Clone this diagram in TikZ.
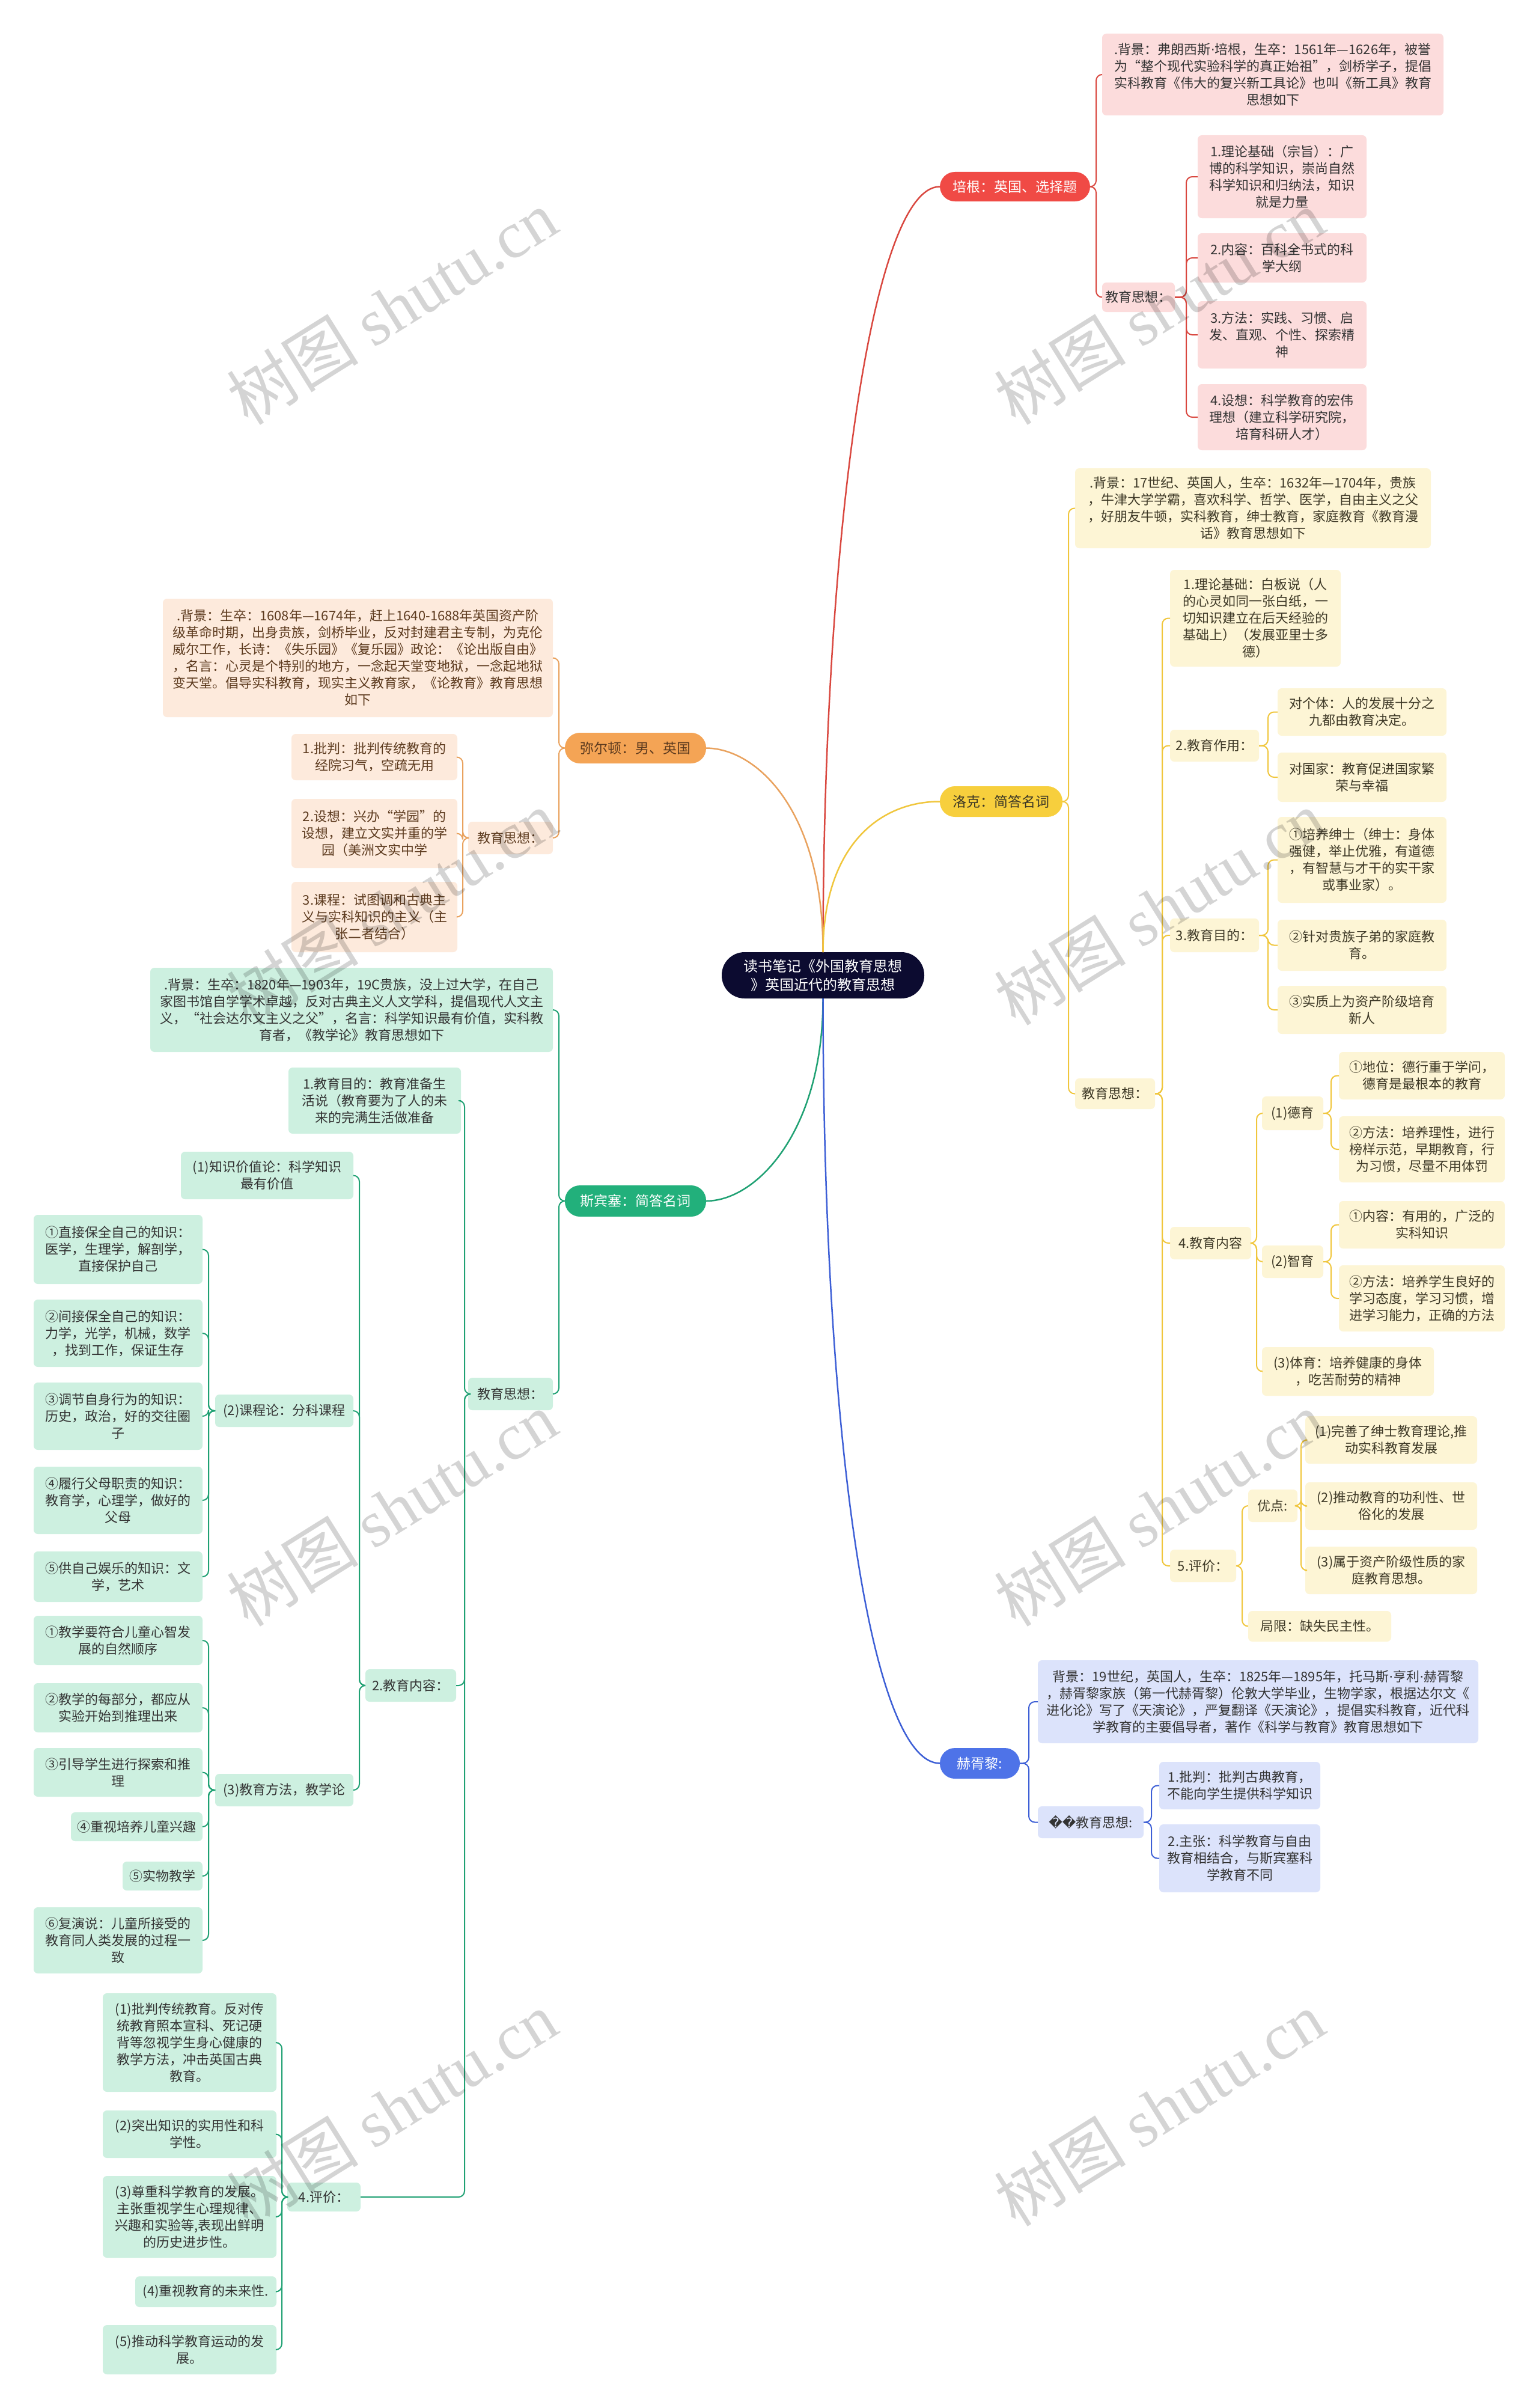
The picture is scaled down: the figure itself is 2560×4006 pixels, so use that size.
\documentclass[tikz,border=0pt]{standalone}
\usepackage{fontspec}
\setmainfont{Noto Sans CJK SC}
\newfontfamily\wmfont{Liberation Serif}
\newfontfamily\djv{DejaVu Sans}
\usetikzlibrary{calc}
\definecolor{txt}{HTML}{333333}
\definecolor{rootc}{HTML}{0C0B30}
\definecolor{bline}{HTML}{D9473F}
\definecolor{bpill}{HTML}{F04A45}
\definecolor{bfill}{HTML}{FCDCDC}
\definecolor{lline}{HTML}{F0C63C}
\definecolor{lpill}{HTML}{F7CF3D}
\definecolor{lfill}{HTML}{FDF5D5}
\definecolor{ltxt}{HTML}{3D3826}
\definecolor{mline}{HTML}{E9A25E}
\definecolor{mpill}{HTML}{F4A455}
\definecolor{mfill}{HTML}{FDEADC}
\definecolor{mtxt}{HTML}{5C3A1E}
\definecolor{sline}{HTML}{1FA173}
\definecolor{spill}{HTML}{22B07B}
\definecolor{sfill}{HTML}{CDF0E0}
\definecolor{hxline}{HTML}{3D5FD6}
\definecolor{hxpill}{HTML}{4E73E8}
\definecolor{hxfill}{HTML}{DCE3FB}
\newcommand\bx[7]{\node[#2, minimum width={#5-#3}, minimum height={#6-#4}] (#1) at ({(#3+#5)/2},{(#4+#6)/2}) {#7};}
\newcommand\rconn[4]{\draw[#1] (#2.east) -- ++(#4,0) |- (#3.west);}
\newcommand\lconn[4]{\draw[#1] (#2.west) -- ++(-#4,0) |- (#3.east);}
\newcommand\mdot{{\djv ·}}
\begin{document}
\begin{tikzpicture}[x=1pt,y=-1pt,
  box/.style={rectangle, rounded corners=7pt, align=center, inner xsep=4pt, inner ysep=2pt, outer sep=0pt, font=\fontsize{22}{28}\selectfont, text=txt},
  bk/.style={box, fill=bfill},
  lk/.style={box, fill=lfill, text=ltxt},
  mk/.style={box, fill=mfill, text=mtxt},
  sk/.style={box, fill=sfill},
  hk/.style={box, fill=hxfill},
  pill/.style={rectangle, rounded corners=25pt, align=center, inner sep=2pt, outer sep=0pt, font=\fontsize{23}{29}\selectfont},
  rootst/.style={rectangle, rounded corners=38pt, align=center, inner sep=2pt, outer sep=0pt, fill=rootc, text=white, font=\fontsize{24}{31}\selectfont},
  c0/.style={line width=2.5pt},
  bc/.style={line width=2pt, rounded corners=10pt, draw=bline},
  lc/.style={line width=2pt, rounded corners=10pt, draw=lline},
  mc/.style={line width=2pt, rounded corners=10pt, draw=mline},
  sc/.style={line width=2pt, rounded corners=10pt, draw=sline},
  hc/.style={line width=2pt, rounded corners=10pt, draw=hxline},
  wm/.style={rotate=32, text=black, opacity=0.17, font=\fontsize{110}{110}\selectfont}
]
\useasboundingbox (0,0) rectangle (2560,4006);
\fill[white] (0,0) rectangle (2560,4006);

% root and main branches
\bx{root}{rootst}{1201}{1584}{1538}{1661}{读书笔记《外国教育思想\\》英国近代的教育思想}
\bx{bacon}{pill, fill=bpill, text=white}{1564}{286}{1814}{335}{培根：英国、选择题}
\bx{locke}{pill, fill=lpill, text=ltxt}{1564}{1308}{1768}{1359}{洛克：简答名词}
\bx{huxley}{pill, fill=hxpill, text=white}{1564}{2908}{1697}{2959}{赫胥黎:}
\bx{milton}{pill, fill=mpill, text=mtxt}{940}{1219}{1175}{1270}{弥尔顿：男、英国}
\bx{spencer}{pill, fill=spill, text=white}{940}{1972}{1175}{2024}{斯宾塞：简答名词}

\draw[c0, draw=bline] (root.north) .. controls (1370,900) and (1450,310) .. (bacon.west);
\draw[c0, draw=mline] (root.north) .. controls (1370,1350) and (1260,1245) .. (milton.east);
\draw[c0, draw=lline] (root.north) .. controls (1370,1400) and (1470,1333) .. (locke.west);
\draw[c0, draw=sline] (root.south) .. controls (1370,1880) and (1260,1998) .. (spencer.east);
\draw[c0, draw=hxline] (root.south) .. controls (1370,2400) and (1450,2933) .. (huxley.west);

% Bacon
\bx{bbg}{bk}{1834}{56}{2402}{192}{.背景：弗朗西斯\mdot 培根，生卒：1561年—1626年，被誉\\为“整个现代实验科学的真正始祖”，剑桥学子，提倡\\实科教育《伟大的复兴新工具论》也叫《新工具》教育\\思想如下}
\bx{bedu}{bk}{1834}{470}{1955}{519}{教育思想：}
\bx{b1}{bk}{1993}{225}{2274}{363}{1.理论基础（宗旨）：广\\博的科学知识，崇尚自然\\科学知识和归纳法，知识\\就是力量}
\bx{b2}{bk}{1993}{388}{2274}{470}{2.内容：百科全书式的科\\学大纲}
\bx{b3}{bk}{1993}{501}{2274}{613}{3.方法：实践、习惯、启\\发、直观、个性、探索精\\神}
\bx{b4}{bk}{1993}{639}{2274}{749}{4.设想：科学教育的宏伟\\理想（建立科学研究院，\\培育科研人才）}
\rconn{bc}{bacon}{bbg}{10}
\rconn{bc}{bacon}{bedu}{10}
\foreach \c in {b1,b2,b3,b4} {\rconn{bc}{bedu}{\c}{19}}

% Locke
\bx{lbg}{lk}{1789}{779}{2381}{912}{.背景：17世纪、英国人，生卒：1632年—1704年，贵族\\，牛津大学学霸，喜欢科学、哲学、医学，自由主义之父\\，好朋友牛顿，实科教育，绅士教育，家庭教育《教育漫\\话》教育思想如下}
\bx{ledu}{lk}{1789}{1794}{1922}{1845}{教育思想：}
\bx{l1}{lk}{1947}{948}{2231}{1109}{1.理论基础：白板说（人\\的心灵如同一张白纸，一\\切知识建立在后天经验的\\基础上）（发展亚里士多\\德）}
\bx{l2}{lk}{1947}{1214}{2095}{1267}{2.教育作用：}
\bx{l2a}{lk}{2126}{1145}{2407}{1224}{对个体：人的发展十分之\\九都由教育决定。}
\bx{l2b}{lk}{2126}{1252}{2407}{1334}{对国家：教育促进国家繁\\荣与幸福}
\bx{l3}{lk}{1947}{1528}{2095}{1584}{3.教育目的：}
\bx{l3a}{lk}{2126}{1359}{2407}{1502}{①培养绅士（绅士：身体\\强健，举止优雅，有道德\\，有智慧与才干的实干家\\或事业家）。}
\bx{l3b}{lk}{2126}{1530}{2407}{1615}{②针对贵族子弟的家庭教\\育。}
\bx{l3c}{lk}{2126}{1640}{2407}{1720}{③实质上为资产阶级培育\\新人}
\bx{l4}{lk}{1947}{2041}{2082}{2095}{4.教育内容}
\bx{l41}{lk}{2100}{1824}{2202}{1880}{(1)德育}
\bx{l41a}{lk}{2228}{1750}{2504}{1829}{①地位：德行重于学问，\\德育是最根本的教育}
\bx{l41b}{lk}{2228}{1857}{2504}{1967}{②方法：培养理性，进行\\榜样示范，早期教育，行\\为习惯，尽量不用体罚}
\bx{l42}{lk}{2100}{2072}{2202}{2126}{(2)智育}
\bx{l42a}{lk}{2228}{1998}{2504}{2077}{①内容：有用的，广泛的\\实科知识}
\bx{l42b}{lk}{2228}{2105}{2504}{2215}{②方法：培养学生良好的\\学习态度，学习习惯，增\\进学习能力，正确的方法}
\bx{l43}{lk}{2100}{2241}{2386}{2322}{(3)体育：培养健康的身体\\，吃苦耐劳的精神}
\bx{l5}{lk}{1947}{2578}{2057}{2632}{5.评价：}
\bx{l5a}{lk}{2077}{2478}{2159}{2532}{优点:}
\bx{l5a1}{lk}{2172}{2356}{2458}{2435}{(1)完善了绅士教育理论,推\\动实科教育发展}
\bx{l5a2}{lk}{2172}{2466}{2458}{2545}{(2)推动教育的功利性、世\\俗化的发展}
\bx{l5a3}{lk}{2172}{2573}{2458}{2652}{(3)属于资产阶级性质的家\\庭教育思想。}
\bx{l5b}{lk}{2077}{2680}{2315}{2731}{局限：缺失民主性。}
\rconn{lc}{locke}{lbg}{10}
\rconn{lc}{locke}{ledu}{10}
\foreach \c in {l1,l2,l3,l4,l5} {\rconn{lc}{ledu}{\c}{12}}
\rconn{lc}{l2}{l2a}{15}
\rconn{lc}{l2}{l2b}{15}
\foreach \c in {l3a,l3b,l3c} {\rconn{lc}{l3}{\c}{15}}
\foreach \c in {l41,l42,l43} {\rconn{lc}{l4}{\c}{9}}
\rconn{lc}{l41}{l41a}{13}
\rconn{lc}{l41}{l41b}{13}
\rconn{lc}{l42}{l42a}{13}
\rconn{lc}{l42}{l42b}{13}
\rconn{lc}{l5}{l5a}{10}
\rconn{lc}{l5}{l5b}{10}
\foreach \c in {l5a1,l5a2,l5a3} {\rconn{lc}{l5a}{\c}{6}}

% Huxley
\bx{hbg}{hk}{1727}{2762}{2460}{2900}{背景：19世纪，英国人，生卒：1825年—1895年，托马斯\mdot 亨利\mdot 赫胥黎\\，赫胥黎家族（第一代赫胥黎）伦敦大学毕业，生物学家，根据达尔文《\\进化论》写了《天演论》，严复翻译《天演论》，提倡实科教育，近代科\\学教育的主要倡导者，著作《科学与教育》教育思想如下}
\bx{hedu}{hk}{1727}{3005}{1903}{3058}{{\djv\char"FFFD\char"FFFD}教育思想:}
\bx{h1}{hk}{1929}{2931}{2197}{3010}{1.批判：批判古典教育，\\不能向学生提供科学知识}
\bx{h2}{hk}{1929}{3035}{2197}{3148}{2.主张：科学教育与自由\\教育相结合，与斯宾塞科\\学教育不同}
\rconn{hc}{huxley}{hbg}{15}
\rconn{hc}{huxley}{hedu}{15}
\rconn{hc}{hedu}{h1}{13}
\rconn{hc}{hedu}{h2}{13}

% Milton
\bx{mbg}{mk}{271}{996}{920}{1193}{.背景：生卒：1608年—1674年，赶上1640-1688年英国资产阶\\级革命时期，出身贵族，剑桥毕业，反对封建君主专制，为克伦\\威尔工作，长诗：《失乐园》《复乐园》政论：《论出版自由》\\，名言：心灵是个特别的地方，一念起天堂变地狱，一念起地狱\\变天堂。倡导实科教育，现实主义教育家，《论教育》教育思想\\如下}
\bx{medu}{mk}{779}{1367}{920}{1421}{教育思想：}
\bx{m1}{mk}{485}{1221}{761}{1298}{1.批判：批判传统教育的\\经院习气，空疏无用}
\bx{m2}{mk}{485}{1329}{761}{1444}{2.设想：兴办“学园”的\\设想，建立文实并重的学\\园（美洲文实中学}
\bx{m3}{mk}{485}{1467}{761}{1584}{3.课程：试图调和古典主\\义与实科知识的主义（主\\张二者结合）}
\lconn{mc}{milton}{mbg}{10}
\lconn{mc}{milton}{medu}{10}
\foreach \c in {m1,m2,m3} {\lconn{mc}{medu}{\c}{9}}

% Spencer
\bx{sbg}{sk}{250}{1610}{920}{1750}{.背景：生卒：1820年—1903年，19C贵族，没上过大学，在自己\\家图书馆自学学术卓越，反对古典主义人文学科，提倡现代人文主\\义，“社会达尔文主义之父”，名言：科学知识最有价值，实科教\\育者，《教学论》教育思想如下}
\bx{sedu}{sk}{779}{2292}{920}{2346}{教育思想：}
\bx{s1}{sk}{480}{1776}{767}{1886}{1.教育目的：教育准备生\\活说（教育要为了人的未\\来的完满生活做准备}
\bx{s2}{sk}{608}{2777}{759}{2831}{2.教育内容：}
\bx{s21}{sk}{301}{1916}{588}{1995}{(1)知识价值论：科学知识\\最有价值}
\bx{s22}{sk}{358}{2320}{588}{2374}{(2)课程论：分科课程}
\bx{s22a}{sk}{56}{2021}{337}{2136}{①直接保全自己的知识：\\医学，生理学，解剖学，\\直接保护自己}
\bx{s22b}{sk}{56}{2162}{337}{2274}{②间接保全自己的知识：\\力学，光学，机械，数学\\，找到工作，保证生存}
\bx{s22c}{sk}{56}{2300}{337}{2412}{③调节自身行为的知识：\\历史，政治，好的交往圈\\子}
\bx{s22d}{sk}{56}{2440}{337}{2552}{④履行父母职责的知识：\\教育学，心理学，做好的\\父母}
\bx{s22e}{sk}{56}{2581}{337}{2665}{⑤供自己娱乐的知识：文\\学，艺术}
\bx{s23}{sk}{358}{2951}{588}{3005}{(3)教育方法，教学论}
\bx{s23a}{sk}{56}{2688}{337}{2770}{①教学要符合儿童心智发\\展的自然顺序}
\bx{s23b}{sk}{56}{2800}{337}{2882}{②教学的每部分，都应从\\实验开始到推理出来}
\bx{s23c}{sk}{56}{2908}{337}{2989}{③引导学生进行探索和推\\理}
\bx{s23d}{sk}{118}{3015}{337}{3063}{④重视培养儿童兴趣}
\bx{s23e}{sk}{204}{3097}{337}{3145}{⑤实物教学}
\bx{s23f}{sk}{56}{3173}{337}{3283}{⑥复演说：儿童所接受的\\教育同人类发展的过程一\\致}
\bx{s4}{sk}{478}{3631}{600}{3679}{4.评价：}
\bx{s4a}{sk}{171}{3316}{460}{3480}{(1)批判传统教育。反对传\\统教育照本宣科、死记硬\\背等忽视学生身心健康的\\教学方法，冲击英国古典\\教育。}
\bx{s4b}{sk}{171}{3511}{460}{3590}{(2)突出知识的实用性和科\\学性。}
\bx{s4c}{sk}{171}{3620}{460}{3756}{(3)尊重科学教育的发展。\\主张重视学生心理规律、\\兴趣和实验等,表现出鲜明\\的历史进步性。}
\bx{s4d}{sk}{225}{3787}{460}{3838}{(4)重视教育的未来性.}
\bx{s4e}{sk}{171}{3868}{460}{3950}{(5)推动科学教育运动的发\\展。}
\lconn{sc}{spencer}{sbg}{10}
\lconn{sc}{spencer}{sedu}{10}
\foreach \c in {s1,s2,s4} {\lconn{sc}{sedu}{\c}{6}}
\foreach \c in {s21,s22,s23} {\lconn{sc}{s2}{\c}{10}}
\foreach \c in {s22a,s22b,s22c,s22d,s22e} {\lconn{sc}{s22}{\c}{11}}
\foreach \c in {s23a,s23b,s23c,s23d,s23e,s23f} {\lconn{sc}{s23}{\c}{11}}
\foreach \c in {s4a,s4b,s4c,s4d,s4e} {\lconn{sc}{s4}{\c}{9}}

% watermarks
\foreach \wx/\wy in {652/511,1929/511,652/1510,1929/1510,652/2510,1929/2510,652/3508,1929/3508}
  {\node[wm] at (\wx,\wy) {树图 {\wmfont shutu.cn}};}
\end{tikzpicture}
\end{document}
